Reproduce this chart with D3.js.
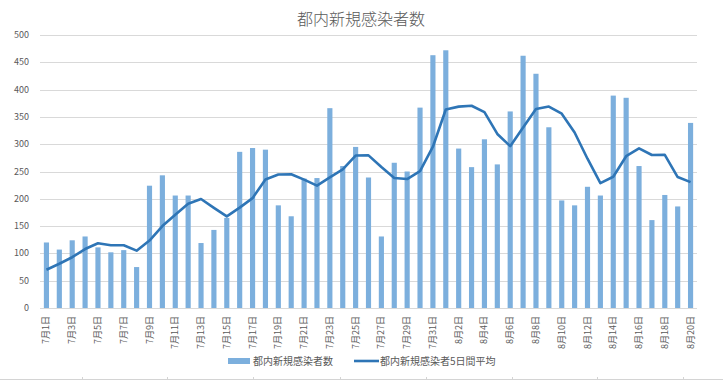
<!DOCTYPE html>
<html><head><meta charset="utf-8">
<script src="https://cdn.jsdelivr.net/npm/d3@7"></script>
<style>body{margin:0;background:#fff}svg{display:block}text{font-family:"Noto Sans CJK JP","Noto Sans",sans-serif;fill:#595959}</style>
</head><body>
<script>
const categories = ["7月1日","7月2日","7月3日","7月4日","7月5日","7月6日","7月7日","7月8日","7月9日","7月10日","7月11日","7月12日","7月13日","7月14日","7月15日","7月16日","7月17日","7月18日","7月19日","7月20日","7月21日","7月22日","7月23日","7月24日","7月25日","7月26日","7月27日","7月28日","7月29日","7月30日","7月31日","8月1日","8月2日","8月3日","8月4日","8月5日","8月6日","8月7日","8月8日","8月9日","8月10日","8月11日","8月12日","8月13日","8月14日","8月15日","8月16日","8月17日","8月18日","8月19日","8月20日"];
const dailyCases = [120,107,124,131,111,102,106,75,224,243,206,206,119,143,165,286,293,290,188,168,237,238,366,260,295,239,131,266,250,367,463,472,292,258,309,263,360,462,429,331,197,188,222,206,389,385,260,161,207,186,339];
const avg5Day = [70,81,93,108,118.6,115,114.8,105,123.6,150,170.8,190.8,199.6,183.4,167.8,183.8,201.2,235.4,244.4,245,235.2,224.2,239.4,253.8,279.2,279.6,258.2,238.2,236.2,250.6,295.4,363.6,368.8,370.4,358.8,318.8,296.4,330.4,364.6,369,355.8,321.4,273.4,228.8,240.4,278,292.4,280.2,280.4,239.8,230.6];
const yTicks = [0,50,100,150,200,250,300,350,400,450,500];
const title = "都内新規感染者数";
const seriesNames = ["都内新規感染者数","都内新規感染者5日間平均"];

const W = 723, H = 381;
const svg = d3.select("body").append("svg").attr("width", W).attr("height", H);
const x = d3.scaleBand().domain(categories).range([40, 697]).paddingInner(0.6).paddingOuter(0.3);
const y = d3.scaleLinear().domain([0, 500]).range([308, 35]);

svg.append("text").attr("x", 361).attr("y", 25).attr("text-anchor", "middle")
  .style("font-size", "16px").style("font-weight", "300").text(title);

// grid
svg.append("g").selectAll("line").data(yTicks).join("line")
  .attr("x1", 40).attr("x2", 697).attr("y1", d => Math.round(y(d)) + 0.5).attr("y2", d => Math.round(y(d)) + 0.5)
  .attr("stroke", "#d9d9d9").attr("stroke-width", 1);
svg.append("g").selectAll("text").data(yTicks).join("text")
  .attr("x", 29).attr("y", d => y(d) + 3).attr("text-anchor", "end")
  .style("font-size", "9px").text(d => d);

// bars
svg.append("g").selectAll("rect").data(dailyCases).join("rect")
  .attr("x", (d, i) => x(categories[i])).attr("width", x.bandwidth())
  .attr("y", d => y(d)).attr("height", d => y(0) - y(d))
  .attr("fill", "#7cafdd");

// line
const line = d3.line().x((d, i) => x(categories[i]) + x.bandwidth() / 2).y(d => y(d));
svg.append("path").datum(avg5Day).attr("d", line).attr("fill", "none")
  .attr("stroke", "#2e75b6").attr("stroke-width", 2.6).attr("stroke-linejoin", "round");

// x labels
svg.append("g").selectAll("text").data(categories.filter((c, i) => i % 2 === 0)).join("text")
  .attr("transform", d => `translate(${x(d) + x.bandwidth() / 2 + 3},316) rotate(-90)`)
  .attr("text-anchor", "end").style("font-size", "9px").text(d => d);

// legend
const lg = svg.append("g");
lg.append("rect").attr("x", 228).attr("y", 358).attr("width", 22).attr("height", 6).attr("fill", "#7cafdd");
lg.append("text").attr("x", 253).attr("y", 365).style("font-size", "10px").text(seriesNames[0]);
lg.append("line").attr("x1", 354).attr("x2", 379).attr("y1", 361).attr("y2", 361).attr("stroke", "#2e75b6").attr("stroke-width", 2.6);
lg.append("text").attr("x", 380).attr("y", 365).style("font-size", "10px").text(seriesNames[1]);

// sheet border at bottom
svg.append("line").attr("x1", 0).attr("x2", W).attr("y1", 379.5).attr("y2", 379.5).attr("stroke", "#d4d4d4");
svg.append("g").selectAll("line").data([82,167,253,340,426,512,597,683]).join("line")
  .attr("x1", d => d + 0.5).attr("x2", d => d + 0.5).attr("y1", 377).attr("y2", 380).attr("stroke", "#d4d4d4");
</script>
</body></html>
